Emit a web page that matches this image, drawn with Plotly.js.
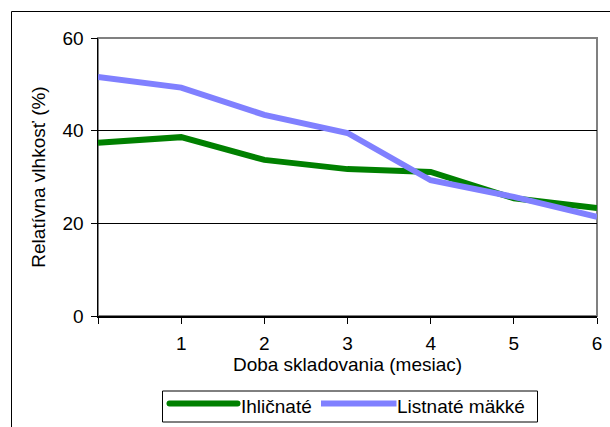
<!DOCTYPE html>
<html>
<head>
<meta charset="utf-8">
<script src="https://cdn.plot.ly/plotly-3.0.1.min.js"></script>
<style>html,body{margin:0;padding:0;background:#fff;}#chart{width:610px;height:427px;}</style>
</head>
<body>
<div id="chart"></div>
<script>
// Data
const months = [0, 1, 2, 3, 4, 5, 6];
const ihlicnate = [37.4, 38.6, 33.7, 31.7, 31.1, 25.4, 23.3];
const listnate = [51.6, 49.3, 43.4, 39.5, 29.3, 25.7, 21.4];
const seriesNames = ['Ihličnaté', 'Listnaté mäkké'];
const xTickVals = [0, 1, 2, 3, 4, 5, 6];
const xTickText = ['', '1', '2', '3', '4', '5', '6'];
const yTickVals = [0, 20, 40, 60];
const xTitle = 'Doba skladovania (mesiac)';
const yTitle = 'Relatívna vlhkosť (%)';

const FONT = 'Liberation Sans, Arial, sans-serif';
const green = '#008000';
const blue = '#8080FF';

const traces = [
  {x: months, y: ihlicnate, name: seriesNames[0], type: 'scatter', mode: 'lines',
   line: {color: green, width: 6}, hoverinfo: 'skip'},
  {x: months, y: listnate, name: seriesNames[1], type: 'scatter', mode: 'lines',
   line: {color: blue, width: 6}, hoverinfo: 'skip'}
];

const L = 98, R = 13, T = 38, B = 111, W = 610, H = 427;
const pw = W - L - R, ph = H - T - B;
const px = v => (v - L) / pw;
const py = v => (H - B - v) / ph;

const layout = {
  width: W, height: H,
  margin: {l: L, r: R, t: T, b: B, pad: 0},
  paper_bgcolor: '#fff', plot_bgcolor: '#fff',
  showlegend: false,
  font: {family: FONT, size: 19, color: '#000'},
  xaxis: {
    range: [0, 6], tickvals: xTickVals, ticktext: xTickText,
    showgrid: false, zeroline: false, showline: true, linecolor: '#000', linewidth: 1.5,
    ticks: 'outside', ticklen: 6, tickcolor: '#000', tickwidth: 1,
    ticklabelstandoff: 4,
    tickfont: {family: FONT, size: 19, color: '#000'},
    title: {text: xTitle, font: {family: FONT, size: 19, color: '#000'}, standoff: 0}
  },
  yaxis: {
    range: [0, 60], tickvals: yTickVals,
    showgrid: true, gridcolor: '#000', gridwidth: 1,
    zeroline: false, showline: true, linecolor: '#000', linewidth: 1.5,
    ticks: 'outside', ticklen: 6, tickcolor: '#000', tickwidth: 1,
    ticklabelstandoff: 3,
    tickfont: {family: FONT, size: 19, color: '#000'},
    title: {text: yTitle, font: {family: FONT, size: 19, color: '#000'}, standoff: 12}
  },
  shapes: [
    // plot area border (gray top/right)
    {type: 'rect', xref: 'paper', yref: 'paper', x0: 0, x1: 1, y0: 0, y1: 1,
     line: {color: '#808080', width: 2}, layer: 'between'},
    // outer chart frame
    {type: 'rect', xref: 'paper', yref: 'paper', x0: px(11.5), x1: px(640), y0: py(11.5), y1: py(460),
     line: {color: '#000', width: 1}},
    // legend box
    {type: 'rect', xref: 'paper', yref: 'paper', x0: px(162.5), x1: px(537.5), y0: py(391), y1: py(422),
     line: {color: '#000', width: 1}},
    // legend samples
    {type: 'line', xref: 'paper', yref: 'paper', x0: px(169.5), x1: px(237.5), y0: py(403.5), y1: py(403.5),
     line: {color: green, width: 6}},
    {type: 'line', xref: 'paper', yref: 'paper', x0: px(321), x1: px(396.5), y0: py(403.5), y1: py(403.5),
     line: {color: blue, width: 6}}
  ],
  annotations: [
    {xref: 'paper', yref: 'paper', x: px(239), y: py(406), xanchor: 'left', yanchor: 'middle',
     text: seriesNames[0], showarrow: false, font: {family: FONT, size: 19, color: '#000'}},
    {xref: 'paper', yref: 'paper', x: px(394.5), y: py(406), xanchor: 'left', yanchor: 'middle',
     text: seriesNames[1], showarrow: false, font: {family: FONT, size: 19, color: '#000'}}
  ]
};

Plotly.newPlot('chart', traces, layout, {staticPlot: true, displayModeBar: false}).then(gd => {
  // round caps on the green legend sample, matching the reference
  const paths = gd.querySelectorAll('.shapelayer path');
  if (paths[3]) paths[3].style.strokeLinecap = 'round';
});
</script>
</body>
</html>
